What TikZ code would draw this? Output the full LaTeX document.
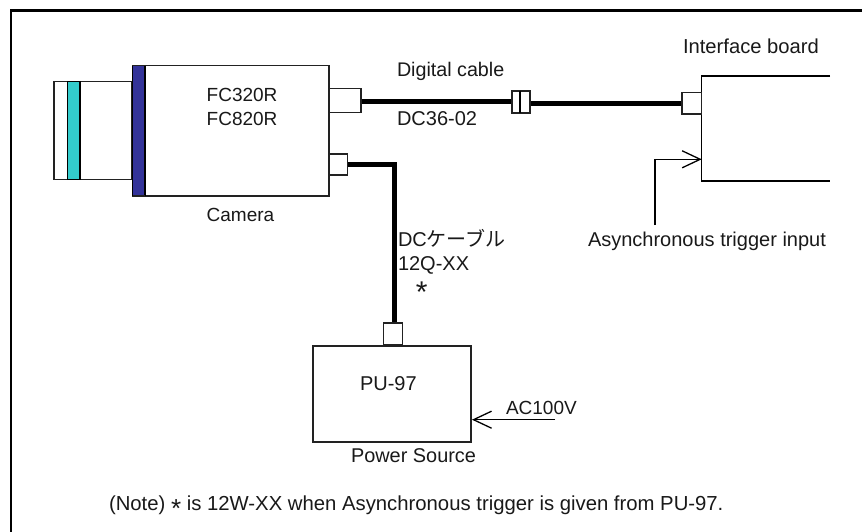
\documentclass[tikz,border=0pt]{standalone}
\usepackage{fontspec}
\setmainfont{Liberation Sans}
\newfontfamily\cjk{Noto Sans CJK JP}
\usetikzlibrary{arrows.meta}
\definecolor{tealband}{HTML}{33CCCC}
\definecolor{navyband}{HTML}{333399}
\definecolor{edge}{HTML}{222222}
\newcommand{\lowstar}{\raisebox{-7pt}{\fontsize{26}{26}\selectfont *}}
\tikzset{
  x=1pt,y=-1pt,
  box/.style={draw=edge,line width=1.1pt,fill=white,inner sep=0pt,outer sep=0pt,anchor=north west},
  cable/.style={line width=4.6pt,black},
  thin line/.style={line width=1.3pt,black},
  open arrow/.style={-{Straight Barb[length=18pt,width=17pt,line width=1.3pt]}},
  label/.style={anchor=base west,inner sep=0pt,outer sep=0pt,font=\fontsize{#1}{#1}\selectfont,text=black!90},
  label/.default=19,
  frame/.style={line width=2.4pt,black}
}
\begin{document}
\begin{tikzpicture}
\useasboundingbox (0,0) rectangle (862,532);
\fill[white] (0,0) rectangle (862,532);
% frame
\coordinate (ftl) at (11,10.5);
\coordinate (ftr) at (862,10.5);
\coordinate (fbl) at (11,532);
\draw[frame] (fbl) -- (ftl) -- (ftr);
% cables
\coordinate (c1a) at (361,101.5);
\coordinate (c1b) at (512,101.5);
\coordinate (c2a) at (530,103.3);
\coordinate (c2b) at (682,103.3);
\coordinate (p1) at (347.7,164.3);
\coordinate (p2) at (394.7,164.3);
\coordinate (p3) at (394.7,323);
\draw[cable] (c1a) -- (c1b);
\draw[cable] (c2a) -- (c2b);
\draw[cable,line join=miter] (p1) -- (p2) -- (p3);
% lens
\node[box,minimum width=77.7pt,minimum height=97.6pt] (lens) at (54,81.7) {};
\node[box,fill=tealband,draw=black,line width=1.4pt,minimum width=12.5pt,minimum height=97.6pt] (band) at (67.3,81.7) {};
% camera
\node[box,minimum width=196.5pt,minimum height=130.3pt] (cam) at (132.5,65.7) {};
\node[box,fill=navyband,draw=none,minimum width=12pt,minimum height=130.3pt] (flange) at (132.5,65.7) {};
\coordinate (fla) at (145,65.7);
\coordinate (flb) at (145,196);
\draw[line width=2pt,black] (fla) -- (flb);
\draw[line width=1.3pt,black] (132.5,65.7) -- (132.5,196);
\draw[line width=1.1pt,edge] (132.5,65.7) -- (145,65.7) (132.5,196) -- (145,196);
% connectors on camera
\node[box,minimum width=32pt,minimum height=24pt] (conn1) at (329,88.3) {};
\node[box,minimum width=18.7pt,minimum height=21pt] (conn2) at (329,154) {};
% splice
\node[box,minimum width=18pt,minimum height=22pt] (splice) at (512,91) {};
\coordinate (spa) at (520,91);
\coordinate (spb) at (520,113);
\draw[line width=1.3pt,black] (spa) -- (spb);
% interface board
\coordinate (bt) at (830,76);
\coordinate (bc) at (701.7,76);
\coordinate (bd) at (701.7,181);
\coordinate (bb) at (830,181);
\draw[thin line] (bt) -- (bc) -- (bd) -- (bb);
\node[box,minimum width=19.3pt,minimum height=21.7pt] (conn3) at (682,92.3) {};
% trigger
\coordinate (t1) at (655,225);
\coordinate (t2) at (655,159.3);
\coordinate (t3) at (701.7,159.3);
\draw[thin line,open arrow] (t1) -- (t2) -- (t3);
% power source
\node[box,minimum width=158pt,minimum height=96pt] (pu) at (313,346) {};
\node[box,minimum width=19pt,minimum height=22pt] (conn4) at (383.3,323) {};
\coordinate (ac) at (555,419.7);
\coordinate (act) at (472,419.7);
\draw[thin line,open arrow] (ac) -- (act);
% text
\node[label=19] (t_a) at (206.7,101.7) {FC320R};
\node[label=19] (t_b) at (206.7,126) {FC820R};
\node[label=19] (t_c) at (206.7,221.7) {Camera};
\node[label=19.7] (t_d) at (397,77) {Digital cable};
\node[label=20] (t_e) at (397,126) {DC36-02};
\node[label=20.2] (t_f) at (683,54) {Interface board};
\node[label=20] (t_g) at (588,246) {Asynchronous trigger input};
\node[label=20] (t_h) at (398,246) {DC{\cjk\fontsize{20}{20}\selectfont ケーブル}};
\node[label=20] (t_i) at (398,270) {12Q-XX};
\node[label=30] (t_j) at (415.9,302) {*};
\node[label=20] (t_k) at (360,390.7) {PU-97};
\node[label=19] (t_l) at (506,414) {AC100V};
\node[label=19.9] (t_m) at (351,462) {Power Source};
\node[label=20.3] (t_n) at (109,510) {(Note) \lowstar\ is 12W-XX when Asynchronous trigger is given from PU-97.};
\end{tikzpicture}
\end{document}
